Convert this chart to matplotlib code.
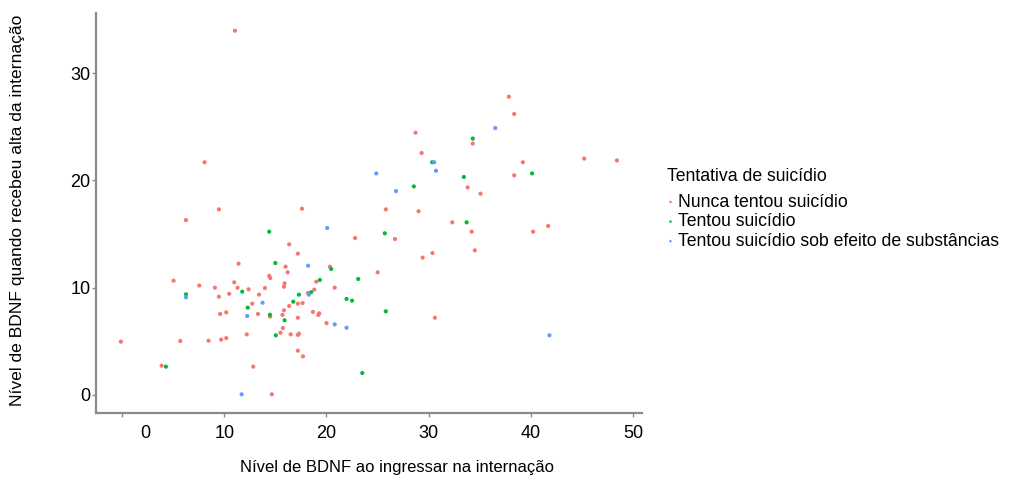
import matplotlib
import matplotlib.pyplot as plt
from matplotlib.transforms import ScaledTranslation

matplotlib.use('Agg')
plt.rcParams['font.family'] = ['Liberation Sans', 'DejaVu Sans']

# grupos de tentativa de suicídio
groups = ["Nunca tentou suicídio", "Tentou suicídio", "Tentou suicídio sob efeito de substâncias"]
colors = ["#F8766D", "#00BA38", "#619CFF"]

# Nunca tentou suicídio
nunca_x = [11.05, 8.08, 9.48, 17.6, 6.26, 37.83, 38.35, 28.7, 34.3, 29.3, 39.2, 45.2, 48.4,
           38.35, 33.8, 35.06, 25.8, 29.0, 32.3, 41.67, 34.2, 40.2, 26.7, 30.36, 29.4, 34.5,
           25.0, 22.8, 16.35, 17.2, 11.4, 16.0, 20.33, 16.2, 19.0, 14.4, 14.5, 5.05, 7.56,
           9.09, 10.98, 11.3, 15.84, 15.9, 13.98, 20.8, 12.38, 10.49, 9.48, 18.8, 18.18,
           13.4, 12.74, 16.35, 17.2, 17.66, 15.84, 18.67, 19.29, 19.2, 9.6, 10.2, 13.3,
           14.5, 15.7, 17.2, 20.0, -0.1, 5.7, 8.47, 9.7, 10.2, 12.2, 15.74, 15.5, 16.5,
           17.2, 17.3, 17.2, 17.7, 3.88, 12.84, 14.66, 30.6]
nunca_y = [33.95, 21.69, 17.3, 17.36, 16.3, 27.8, 26.19, 24.45, 23.43, 22.55, 21.69, 22.03, 21.86,
           20.47, 19.35, 18.76, 17.3, 17.12, 16.09, 15.75, 15.22, 15.22, 14.54, 13.23, 12.8, 13.48,
           11.43, 14.63, 14.04, 13.17, 12.24, 11.96, 11.96, 11.43, 10.56, 11.1, 10.9, 10.65, 10.2,
           10.0, 10.5, 10.0, 10.09, 10.4, 9.97, 10.0, 9.85, 9.43, 9.16, 9.82, 9.5,
           9.35, 8.51, 8.29, 8.51, 8.57, 7.89, 7.74, 7.61, 7.46, 7.55, 7.7, 7.55,
           7.3, 7.46, 7.2, 6.7, 4.97, 5.03, 5.06, 5.16, 5.3, 5.65, 6.24, 5.8, 5.65,
           5.6, 5.72, 4.13, 3.6, 2.73, 2.64, 0.06, 7.2]

# Tentou suicídio
tentou_x = [34.3, 30.33, 40.1, 33.43, 28.54, 33.7, 25.7, 14.4, 15.0, 20.46, 23.1, 19.35, 11.76,
            6.26, 18.5, 17.3, 12.3, 16.75, 21.96, 22.5, 14.47, 15.9, 15.05, 4.3, 23.5, 25.8]
tentou_y = [23.9, 21.69, 20.65, 20.32, 19.44, 16.09, 15.07, 15.22, 12.3, 11.74, 10.81, 10.72, 9.63,
            9.38, 9.58, 9.35, 8.14, 8.7, 8.95, 8.79, 7.48, 6.96, 5.56, 2.64, 2.05, 7.8]

# Tentou suicídio sob efeito de substâncias
subst_x = [36.5, 30.53, 30.7, 24.86, 26.8, 20.07, 18.2, 6.26, 18.28, 13.75, 12.25, 20.8, 21.96, 11.7, 41.8]
subst_y = [24.88, 21.69, 20.9, 20.65, 19.0, 15.56, 12.05, 9.1, 9.35, 8.6, 7.36, 6.58, 6.27, 0.06, 5.56]

xticks = [0, 10, 20, 30, 40, 50]
yticks = [0, 10, 20, 30]

xs = [nunca_x, tentou_x, subst_x]
ys = [nunca_y, tentou_y, subst_y]

fig = plt.figure(figsize=(10.09, 4.84), dpi=100)
ax = fig.add_axes([0.0951, 0.1467, 0.5410, 0.8264])

for x, y, c, g in zip(xs, ys, colors, groups):
    ax.scatter(x, y, s=9, color=c, edgecolors='none', label=g)

ax.set_xlim(-2.54, 50.83)
ax.set_ylim(-1.68, 35.6)
ax.set_xticks(xticks)
ax.set_yticks(yticks)

for side in ['top', 'right']:
    ax.spines[side].set_visible(False)
for side in ['left', 'bottom']:
    ax.spines[side].set_color('#8a8a8a')
    ax.spines[side].set_linewidth(1.6)
ax.tick_params(axis='both', colors='#8a8a8a', length=3, width=1, labelcolor='black', labelsize=13)
ax.tick_params(axis='x', pad=6)
ax.tick_params(axis='y', pad=1)

# o rótulo "0" aparece deslocado para a direita na figura original
lab0 = ax.get_xticklabels()[0]
lab0.set_transform(lab0.get_transform() + ScaledTranslation(0.23, 0, fig.dpi_scale_trans))

ax.set_xlabel("Nível de BDNF ao ingressar na internação", fontsize=12)
ax.xaxis.set_label_coords(0.551, -0.1175)
ax.set_ylabel("Nível de BDNF quando recebeu alta da internação", fontsize=12.6)
ax.yaxis.set_label_coords(-0.130, 0.5075)

leg = ax.legend(title="Tentativa de suicídio", loc='upper left',
                bbox_to_anchor=(0.654, 0.667), bbox_transform=fig.transFigure,
                frameon=False, fontsize=12.7, title_fontsize=12.7, markerscale=0.6,
                handlelength=0.4, handletextpad=0.25, labelspacing=0.15,
                alignment='left', borderaxespad=0)
leg._legend_box.sep = 6

plt.savefig('out.png', dpi=100)
plt.close()
